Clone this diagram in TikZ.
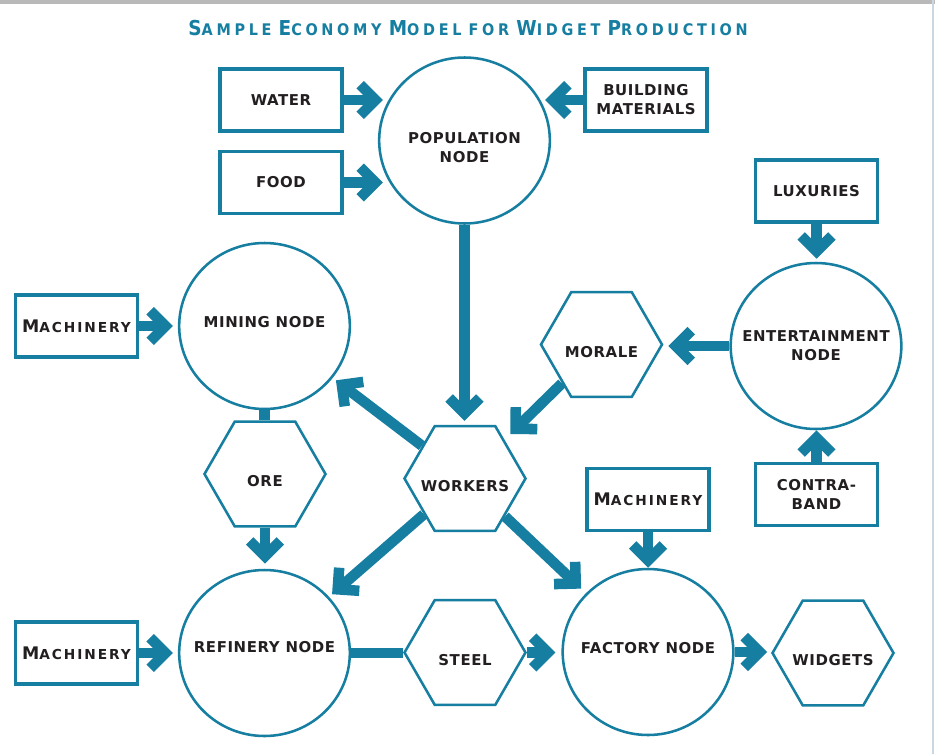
\documentclass[tikz,border=0pt]{standalone}
\usepackage{fontspec}
\setmainfont{DejaVu Sans}
\usetikzlibrary{arrows.meta,shapes.geometric,calc}
\newfontfamily\lblfam[LetterSpace=4]{DejaVu Sans}
\newfontfamily\machfam[LetterSpace=14]{DejaVu Sans}
\newfontfamily\titlefam[LetterSpace=23,FakeStretch=0.9]{DejaVu Sans}
\definecolor{teal1}{RGB}{22,126,161}
\definecolor{ink}{RGB}{35,31,32}
\definecolor{edgeline}{RGB}{200,215,225}
\newcommand\machtext{{\machfam\bfseries\fontsize{13}{15}\selectfont M\fontsize{10.3}{12}\selectfont ACHINERY}}
\newcommand\tsc[2]{{\fontsize{15.4}{18}\selectfont #1}{\fontsize{12}{14}\selectfont #2}}
\newcommand\zw[1]{\makebox[0pt]{#1}}
\tikzset{
  lbl/.style={text=ink, font=\lblfam\bfseries\fontsize{11.2}{14.3}\selectfont},
  box/.style={lbl, draw=teal1, line width=2.6pt, fill=white, rectangle,
    minimum width=91.5pt, minimum height=46.5pt, inner sep=0pt, align=center},
  bubble/.style={lbl, draw=teal1, line width=1.9pt, fill=white, ellipse,
    minimum width=128pt, minimum height=124.5pt, inner sep=0pt, align=center},
  hexa/.style={lbl, draw=teal1, line width=1.9pt, fill=white, regular polygon,
    regular polygon sides=6, minimum size=90.75pt, inner sep=0pt,
    text height=19pt, text depth=0pt},
  flow/.style={draw=teal1, line width=7.9pt,
    -{Straight Barb[sharp,length=11.5pt,width=23pt]}},
  bar/.style={draw=teal1, line width=7.9pt},
}
\begin{document}
\begin{tikzpicture}[x=0.75pt,y=-0.75pt]
\useasboundingbox (0,0) rectangle (935,754);
\fill[white] (0,0) rectangle (935,754);
\fill[gray!55] (0,0) rectangle (935,3.5);
\fill[edgeline] (931.5,0) rectangle (933.5,754);

\node[anchor=base, text=teal1, font=\titlefam\bfseries] (title) at (468,35)
  {\tsc{S}{AMPLE} \tsc{E}{CONOMY} \tsc{M}{ODEL} {\fontsize{12}{14}\selectfont FOR} \tsc{W}{IDGET} \tsc{P}{RODUCTION}};

% boxes
\node[box] (water)  at (281,100)   {WATER};
\node[box] (food)   at (281,182.5) {FOOD};
\node[box] (build)  at (646,100)   {BUILDING\\MATERIALS};
\node[box] (lux)    at (816.5,191) {LUXURIES};
\node[box] (contra) at (816.5,494.5) {CONTRA-\\BAND};
\node[box] (mach1)  at (76.5,326)  {\machtext};
\node[box] (mach2)  at (76.5,653)  {\machtext};
\node[box] (mach3)  at (648,499.5) {\machtext};

% circles
\node[bubble] (pop)      at (464.5,140.5) {\zw{POPULATION}\rule{0pt}{18.7pt}\\\zw{NODE}};
\node[bubble, text height=8.2pt, text depth=6pt] (mining)   at (264.5,326) {\zw{MINING NODE}};
\node[bubble] (ent)      at (816,346)   {\zw{ENTERTAINMENT}\\\zw{NODE}};
\node[bubble, text height=8.2pt, text depth=9pt] (refinery) at (264.5,653) {\zw{REFINERY NODE}};
\node[bubble, text height=8.2pt, text depth=6pt] (factory)  at (648,652)   {\zw{FACTORY NODE}};

% hexagons
\node[hexa] (morale)  at (601.5,344.5) {\zw{MORALE}};
\node[hexa] (workers) at (465,478.5)   {\zw{WORKERS}};
\node[hexa] (ore)     at (265,474)     {\zw{ORE}};
\node[hexa] (steel)   at (465,652.5)   {\zw{STEEL}};
\node[hexa] (widgets) at (833,653)     {\zw{WIDGETS}};

% connectors
\draw[flow] (water.east) -- ($(water.east -| pop.west)+(5,0)$);
\draw[flow] (food.east) -- ($(food.east -| pop.west)+(5,0)$);
\draw[flow] (build.west) -- ($(build.west -| pop.east)+(-6,0)$);
\draw[flow] (pop.south) -- ($(pop.south |- workers.north)+(0,-4)$);
\draw[flow] (lux.south) -- ($(lux.south |- ent.north)+(0,-3)$);
\draw[flow] (contra.north) -- (contra.north |- ent.south);
\draw[flow] (ent.west) -- ($(ent.west -| morale.east)+(5,0)$);
\draw[flow, shorten >=6pt] (morale) -- (workers);
\draw[flow, shorten >=3pt] (workers) -- (mining);
\draw[flow, shorten >=3pt] (workers) -- (refinery);
\draw[flow, shorten >=5pt] (workers) -- (factory);
\draw[flow] (mach3.south) -- (mach3.south |- factory.north);
\draw[flow] (mach1.east) -- ($(mach1.east -| mining.west)+(-5,0)$);
\draw[bar] (mining.south) -- (mining.south |- ore.north);
\draw[flow] (ore.south) -- ($(ore.south |- refinery.north)+(0,-5)$);
\draw[flow] (mach2.east) -- ($(mach2.east -| refinery.west)+(-5,0)$);
\draw[bar] (refinery.east) -- (refinery.east -| steel.west);
\draw[flow] (steel.east) -- ($(steel.east -| factory.west)+(-6,0)$);
\draw[flow] (factory.east) -- ($(factory.east -| widgets.west)+(-4,0)$);
\end{tikzpicture}
\end{document}
